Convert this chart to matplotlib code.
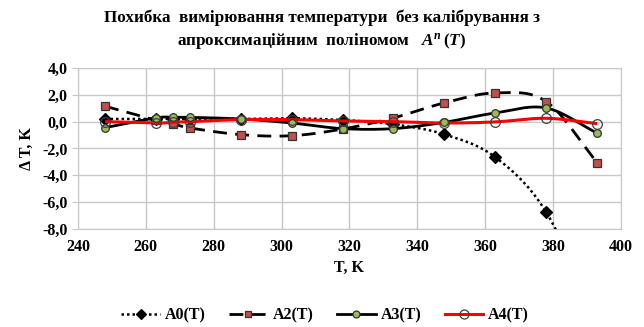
import numpy as np
from matplotlib import pyplot as plt
from matplotlib.ticker import FuncFormatter
from matplotlib.lines import Line2D

plt.rcParams['font.family'] = ['Liberation Serif', 'DejaVu Serif']
plt.rcParams['font.weight'] = 'bold'
plt.rcParams['mathtext.fontset'] = 'custom'
plt.rcParams['mathtext.rm'] = 'Liberation Serif:bold'
plt.rcParams['mathtext.it'] = 'Liberation Serif:italic:bold'

# temperatures, K
T = [248, 263, 268, 273, 288, 303, 318, 333, 348, 363, 378, 393]

# error, K
a0 = [0.2, 0.2, 0.2, 0.2, 0.2, 0.25, 0.12, -0.2, -0.95, -2.65, -6.75, -15.0]
a2 = [1.15, 0.1, -0.17, -0.47, -0.97, -1.05, -0.55, 0.28, 1.4, 2.14, 1.5, -3.05]
a3 = [-0.45, 0.28, 0.32, 0.32, 0.2, -0.1, -0.52, -0.52, -0.05, 0.65, 1.02, -0.85]
a4 = [0.0, -0.1, -0.05, 0.0, 0.15, 0.15, 0.05, 0.0, -0.1, -0.02, 0.25, -0.15]

labels = ['A0(T)', 'A2(T)', 'A3(T)', 'A4(T)']


# smooth curve through the points (Catmull-Rom, like a spreadsheet "smoothed line")
def smooth(x, y, n=30):
    x = np.asarray(x, float)
    y = np.asarray(y, float)
    px = np.concatenate([[2*x[0] - x[1]], x, [2*x[-1] - x[-2]]])
    py = np.concatenate([[2*y[0] - y[1]], y, [2*y[-1] - y[-2]]])
    xs, ys = [], []
    t = np.linspace(0, 1, n, endpoint=False)
    for i in range(1, len(px) - 2):
        p0, p1, p2, p3 = px[i-1], px[i], px[i+1], px[i+2]
        q0, q1, q2, q3 = py[i-1], py[i], py[i+1], py[i+2]
        t2, t3 = t*t, t*t*t
        xs.append(0.5*(2*p1 + (-p0 + p2)*t + (2*p0 - 5*p1 + 4*p2 - p3)*t2 + (-p0 + 3*p1 - 3*p2 + p3)*t3))
        ys.append(0.5*(2*q1 + (-q0 + q2)*t + (2*q0 - 5*q1 + 4*q2 - q3)*t2 + (-q0 + 3*q1 - 3*q2 + q3)*t3))
    xs.append([x[-1]])
    ys.append([y[-1]])
    return np.concatenate(xs), np.concatenate(ys)


fig = plt.figure(figsize=(6.44, 3.27), dpi=100)
ax = fig.add_axes([0.121, 0.300, 0.843, 0.492])

# line zorder (lz) and marker zorder (mz) per series
styles = [
    dict(color='black', ls=(0, (1, 1.2)), lw=1.8, marker='D', ms=6, mfc='black', mec='black', lz=3, mz=7),
    dict(color='black', ls=(0, (5, 3)), lw=2.0, marker='s', ms=5.5, mfc='#c0504d', mec='#333333', lz=4, mz=8),
    dict(color='black', ls='-', lw=2.0, marker='o', ms=5.5, mfc='#9bbb59', mec='#333333', lz=5, mz=10),
    dict(color='#ff0000', ls='-', lw=2.2, marker='o', ms=7, mfc='none', mec='#404040', lz=9, mz=11),
]

handles = []
for k, ys in enumerate([a0, a2, a3, a4]):
    st = styles[k]
    sx, sy = smooth(T, ys)
    ax.plot(sx, sy, color=st['color'], ls=st['ls'], lw=st['lw'], zorder=st['lz'],
            solid_capstyle='butt', dash_capstyle='butt')
    ax.plot(T, ys, ls='none', marker=st['marker'], ms=st['ms'], mfc=st['mfc'],
            mec=st['mec'], mew=0.9, zorder=st['mz'])
    handles.append(Line2D([], [], color=st['color'], ls=st['ls'], lw=st['lw'],
                          marker=st['marker'], ms=st['ms'] - 0.5, mfc=st['mfc'],
                          mec=st['mec'], mew=0.9))

ax.set_xlim(240, 400)
ax.set_ylim(-8, 4)
ax.set_xticks(np.arange(240, 401, 20))
ax.set_yticks(np.arange(-8, 4.1, 2))
ax.yaxis.set_major_formatter(FuncFormatter(lambda v, p: '{:.1f}'.format(v).replace('.', ',')))
ax.grid(True, color='#c8c8c8', lw=1.0)
ax.set_axisbelow(True)
for s in ax.spines.values():
    s.set_color('#c8c8c8')
ax.tick_params(axis='both', labelsize=11.5, colors='#c8c8c8', labelcolor='black', length=4)
ax.tick_params(axis='x', length=0, pad=7)

ax.set_xlabel('T, K', fontsize=11.5, fontweight='bold', labelpad=4)
ax.set_ylabel('Δ T, K', fontsize=11.5, fontweight='bold', labelpad=5)

fig.text(0.5, 0.945, 'Похибка  вимірювання температури  без калібрування з',
         ha='center', va='center', fontsize=12.3, fontweight='bold')
fig.text(0.5, 0.875, 'апроксимаційним  поліномом   $A^{n}\\,(T)$',
         ha='center', va='center', fontsize=12.3, fontweight='bold')

fig.legend(handles, labels, loc='center', bbox_to_anchor=(0.505, 0.035), ncol=4,
           frameon=False, handlelength=2.4, handletextpad=0.3,
           columnspacing=1.5, prop={'weight': 'bold', 'size': 11.5})

fig.savefig('out.png', dpi=100)
